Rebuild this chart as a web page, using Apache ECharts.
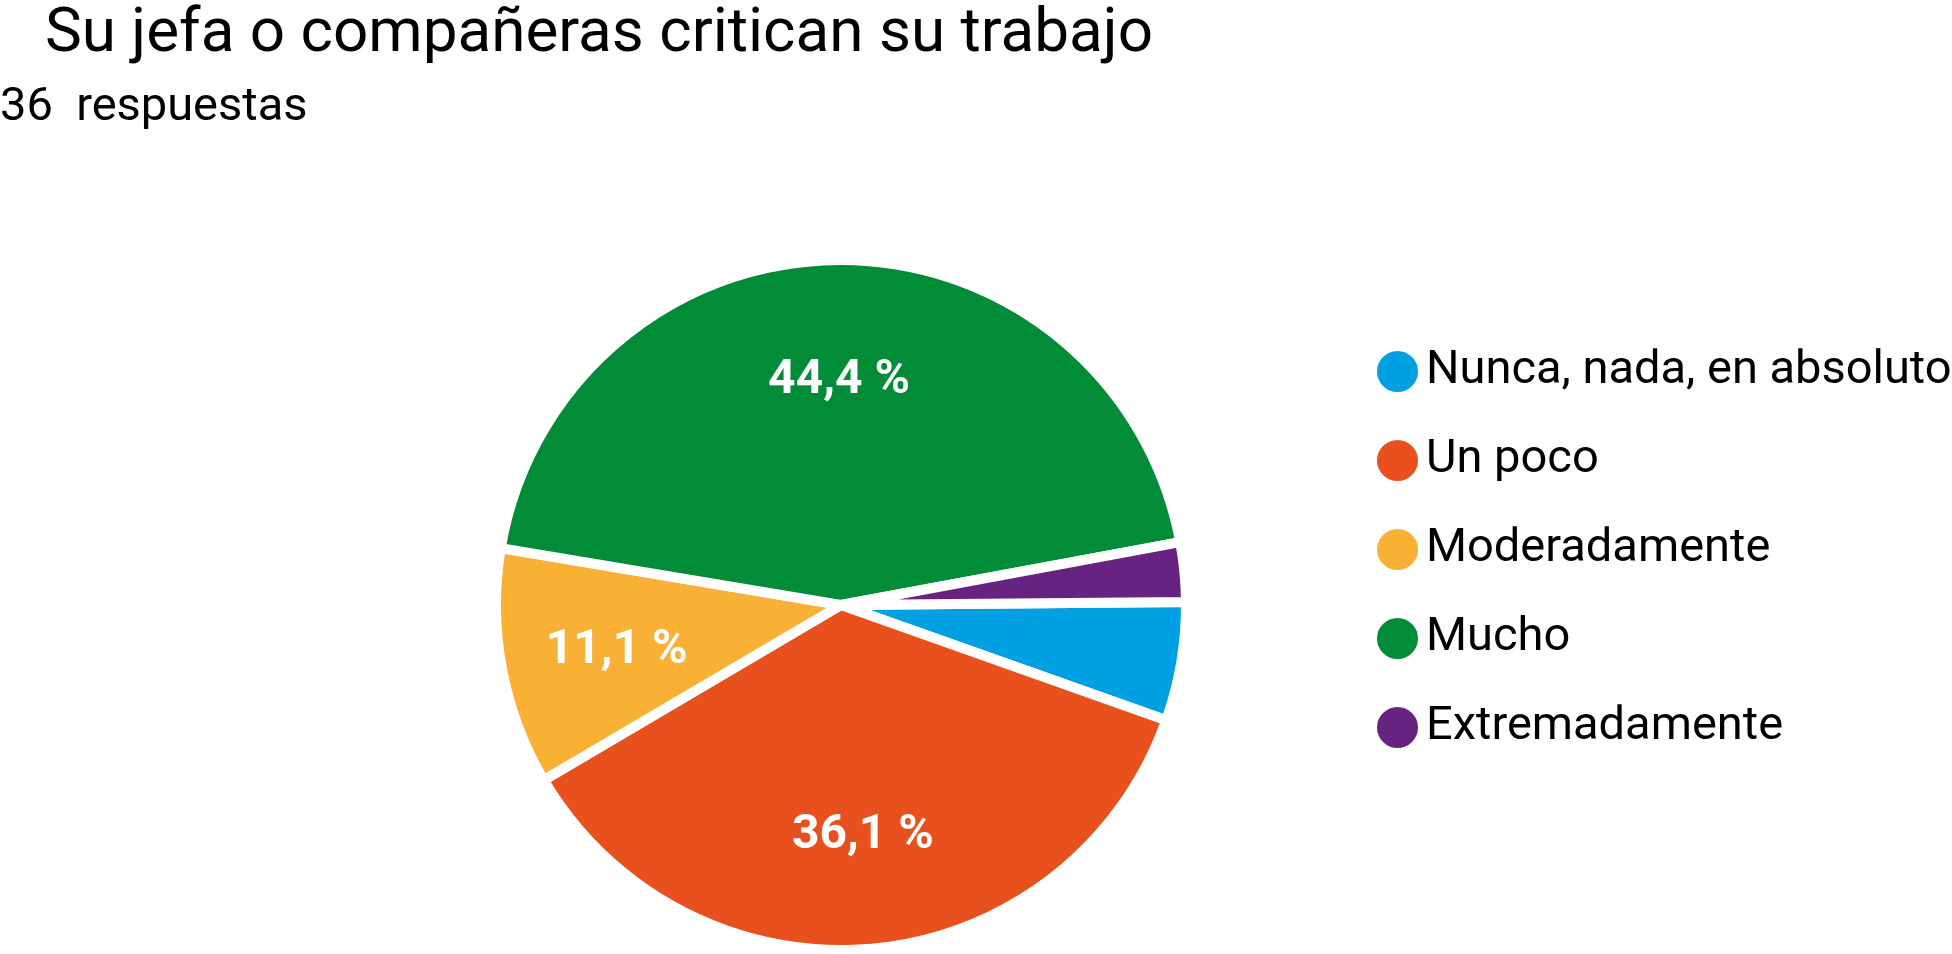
<!DOCTYPE html>
<html lang="es">
<head>
    <meta charset="UTF-8">
    <title>critican su trabajo</title>
    <script src="https://cdn.jsdelivr.net/npm/echarts@6.0.0/dist/echarts.min.js"></script>
    <style>
        html, body { margin: 0; padding: 0; background: #fff; }
    </style>
</head>
<body>
<div id="main" style="width: 1952px;height:954px;"></div>
<script>
    // datos (36 respuestas)
    var categorias = ['Nunca, nada, en absoluto', 'Un poco', 'Moderadamente', 'Mucho', 'Extremadamente'];
    var respuestas = [2, 13, 4, 16, 1];
    var colores = ['#00a0e3', '#e8501e', '#f8b134', '#038c37', '#662480'];
    var titulo = 'Su jefa o compañeras critican su trabajo';
    var subtitulo = '36  respuestas';

    var centro = [841, 605];
    var radio = 345;

    var datos = [];
    for (var i = 0; i < categorias.length; i++) {
        datos.push({name: categorias[i], value: respuestas[i]});
    }

    var chart = echarts.init(document.getElementById('main'));
    var option = {
        animation: false,
        color: colores,
        title: [
            {
                text: titulo,
                left: 40,
                top: -1,
                textStyle: {fontFamily: 'Roboto', fontSize: 62, fontWeight: 'normal', color: '#000'}
            },
            {
                text: subtitulo,
                left: -5,
                top: 80,
                textStyle: {fontFamily: 'Roboto', fontSize: 47, fontWeight: 'normal', color: '#000'}
            }
        ],
        legend: {
            orient: 'vertical',
            left: 1370,
            top: 343,
            icon: 'circle',
            itemWidth: 47,
            itemHeight: 43,
            itemGap: 42,
            selectedMode: false,
            data: categorias,
            textStyle: {fontFamily: 'Roboto', fontSize: 47, color: '#000'}
        },
        series: [
            {
                type: 'pie',
                center: centro,
                radius: radio,
                startAngle: 0.5,
                clockwise: true,
                data: datos,
                itemStyle: {borderColor: '#fff', borderWidth: 10},
                label: {
                    position: 'inside',
                    color: '#fff',
                    fontFamily: 'Roboto',
                    fontWeight: 'bold',
                    fontSize: 48,
                    formatter: function (p) {
                        if (p.percent < 10) return '';
                        return p.percent.toFixed(1).replace('.', ',') + ' %';
                    }
                },
                labelLine: {show: false},
                // etiquetas a ~2/3 del radio, como en el original
                labelLayout: function (p) {
                    var r = p.labelRect;
                    var lx = r.x + r.width / 2 - centro[0];
                    var ly = r.y + r.height / 2 - centro[1];
                    return {dx: lx * 0.3, dy: ly * 0.3 + 4};
                }
            }
        ]
    };
    chart.setOption(option);
</script>
</body>
</html>
